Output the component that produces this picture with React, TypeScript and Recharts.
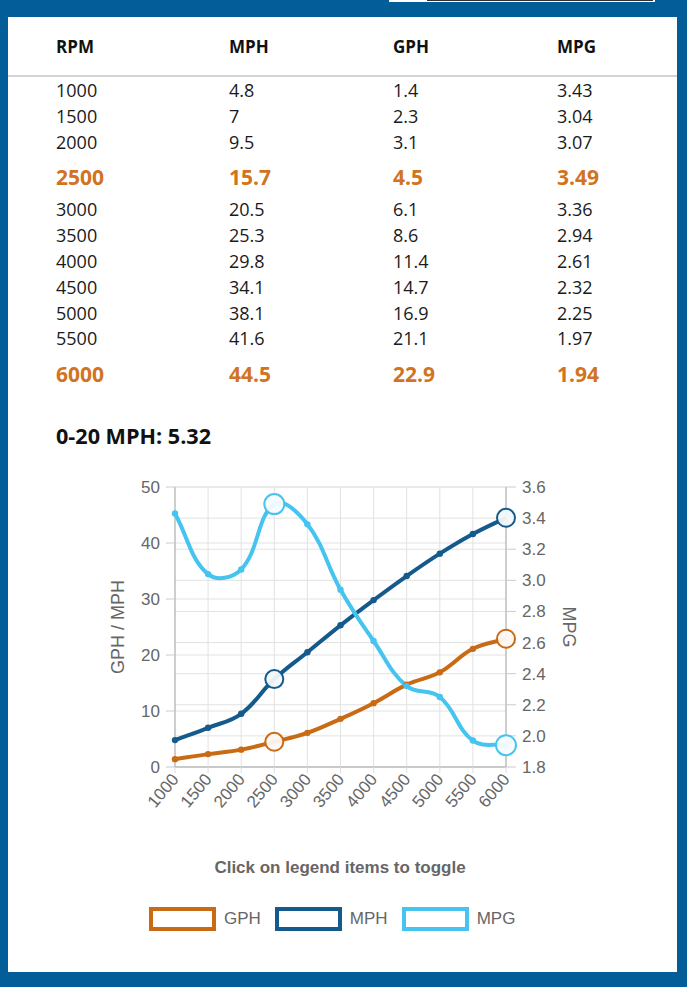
import React from 'react';
import { LineChart, Line, XAxis, YAxis, CartesianGrid } from 'recharts';

const rpm = ['1000', '1500', '2000', '2500', '3000', '3500', '4000', '4500', '5000', '5500', '6000'];
const mph = [4.8, 7, 9.5, 15.7, 20.5, 25.3, 29.8, 34.1, 38.1, 41.6, 44.5];
const gph = [1.4, 2.3, 3.1, 4.5, 6.1, 8.6, 11.4, 14.7, 16.9, 21.1, 22.9];
const mpg = [3.43, 3.04, 3.07, 3.49, 3.36, 2.94, 2.61, 2.32, 2.25, 1.97, 1.94];
const highlighted = ['2500', '6000'];
const leftTicks = [0, 10, 20, 30, 40, 50];
const rightTicks = [1.8, 2.0, 2.2, 2.4, 2.6, 2.8, 3.0, 3.2, 3.4, 3.6];
const headers = ['RPM', 'MPH', 'GPH', 'MPG'];
const summaryLabel = '0-20 MPH: 5.32';

const series = [
  { key: 'gph', name: 'GPH', color: '#c96a14', axis: 'left', fill: '#fdf8f2' },
  { key: 'mph', name: 'MPH', color: '#145a8c', axis: 'left', fill: '#f2f7fa' },
  { key: 'mpg', name: 'MPG', color: '#45c4ef', axis: 'right', fill: '#f4fbfe' },
];

const data = rpm.map((r, i) => ({ rpm: r, mph: mph[i], gph: gph[i], mpg: mpg[i] }));

const BLUE = '#035d98';
const ORANGE = '#d27321';
const CHART_FONT = '"Liberation Sans", Arial, sans-serif';
const TABLE_FONT = '"Open Sans", sans-serif';

function chartJsCurve(tension: number) {
  return (context: any) => {
    let pts: number[][] = [];
    return {
      areaStart() {},
      areaEnd() {},
      lineStart() {
        pts = [];
      },
      point(x: number, y: number) {
        pts.push([+x, +y]);
      },
      lineEnd() {
        const n = pts.length;
        if (!n) return;
        const cps = pts.map((p, i) => {
          const prev = pts[i > 0 ? i - 1 : 0];
          const next = pts[i < n - 1 ? i + 1 : n - 1];
          const d01 = Math.hypot(p[0] - prev[0], p[1] - prev[1]);
          const d12 = Math.hypot(next[0] - p[0], next[1] - p[1]);
          const s = d01 + d12 || 1;
          const fa = (tension * d01) / s;
          const fb = (tension * d12) / s;
          return {
            inner: [p[0] - fa * (next[0] - prev[0]), p[1] - fa * (next[1] - prev[1])],
            outer: [p[0] + fb * (next[0] - prev[0]), p[1] + fb * (next[1] - prev[1])],
          };
        });
        context.moveTo(pts[0][0], pts[0][1]);
        for (let i = 1; i < n; i++) {
          context.bezierCurveTo(
            cps[i - 1].outer[0], cps[i - 1].outer[1],
            cps[i].inner[0], cps[i].inner[1],
            pts[i][0], pts[i][1]
          );
        }
      },
    };
  };
}

const curve = chartJsCurve(0.4);

const makeDot = (color: string, fill: string, bigR: number) => (props: any) => {
  const { cx, cy, payload, index } = props;
  if (cx == null || cy == null) return <g key={index} />;
  if (highlighted.includes(payload.rpm)) {
    return (
      <circle key={index} cx={cx} cy={cy} r={bigR} fill={fill} fillOpacity={0.95} stroke={color} strokeWidth={2} />
    );
  }
  return <circle key={index} cx={cx} cy={cy} r={3.2} fill={color} stroke="none" />;
};

const XTick = (props: any) => {
  const { x, y, payload } = props;
  return (
    <g transform={`translate(${x},${y})`}>
      <text x={0} y={0} dy="0.35em" textAnchor="end" transform="rotate(-50)" fill="#666" fontSize={17} fontFamily={CHART_FONT}>
        {payload.value}
      </text>
    </g>
  );
};

function TableCell({ text, x, bold, color, size }: any) {
  return (
    <span style={{ position: 'absolute', left: x, top: 0, fontWeight: bold ? 700 : 400, color, fontSize: size, whiteSpace: 'nowrap' }}>
      {text}
    </span>
  );
}

const colX = [48, 221, 385, 549];

export default function App() {
  const rows = rpm.map((r, i) => [r, String(mph[i]), String(gph[i]), String(mpg[i])]);
  let top = 78;
  const rowEls = rows.map((row, i) => {
    const hl = highlighted.includes(row[0]);
    const h = hl ? 44 : 25.8;
    const el = (
      <div key={i} style={{ position: 'absolute', left: 0, top, height: h, width: 669, lineHeight: `${h}px` }}>
        {row.map((t, j) => (
          <TableCell key={j} text={t} x={colX[j]} bold={hl} color={hl ? ORANGE : '#1a1a1a'} size={hl ? 21 : 18} />
        ))}
      </div>
    );
    top += hl ? 42 : 25.8;
    return el;
  });

  return (
    <div style={{ position: 'absolute', left: 0, top: 0, width: 687, height: 987, background: BLUE, overflow: 'hidden', fontFamily: TABLE_FONT }}>
      <div style={{ position: 'absolute', left: 389, top: 0, width: 266, height: 2, background: '#ffffff' }} />
      <div style={{ position: 'absolute', left: 427, top: 0, width: 226, height: 1, background: '#333' }} />
      <div style={{ position: 'absolute', left: 8, top: 17, width: 669, height: 955, background: '#fff' }}>
        <div style={{ position: 'absolute', left: 0, top: 0, width: 669, height: 60, lineHeight: '60px' }}>
          {headers.map((h, j) => (
            <TableCell key={j} text={h} x={colX[j]} bold color="#111" size={17} />
          ))}
        </div>
        <div style={{ position: 'absolute', left: 0, top: 58, width: 669, height: 2, background: '#d4d4d4' }} />
        <div style={{ position: 'absolute', left: 0, top: -17, width: 669 }}>{rowEls}</div>
        <div style={{ position: 'absolute', left: 48, top: 404, fontWeight: 700, fontSize: 21.6, color: '#111', lineHeight: '30px' }}>
          {summaryLabel}
        </div>
      </div>

      <div style={{ position: 'absolute', left: 0, top: 460, width: 687, height: 367 }}>
        <LineChart width={687} height={367} data={data} margin={{ top: 27, right: 121, bottom: 0, left: 115 }}>
          <CartesianGrid yAxisId="left" stroke="#e2e2e2" />
          <CartesianGrid yAxisId="right" vertical={false} stroke="#e2e2e2" />
          <XAxis
            dataKey="rpm"
            height={60}
            interval={0}
            tick={<XTick />}
            tickSize={6}
            tickMargin={3}
            stroke="#aaa"
            tickLine={{ stroke: '#ddd' }}
          />
          <YAxis
            yAxisId="left"
            orientation="left"
            width={60}
            domain={[0, 50]}
            ticks={leftTicks}
            interval={0}
            tickSize={9}
            tickMargin={6}
            stroke="#aaa"
            tickLine={{ stroke: '#ccc' }}
            tick={{ fill: '#666', fontSize: 17, fontFamily: CHART_FONT }}
          />
          <YAxis
            yAxisId="right"
            orientation="right"
            width={60}
            domain={[1.8, 3.6]}
            ticks={rightTicks}
            interval={0}
            tickSize={10}
            tickMargin={6}
            stroke="#aaa"
            tickLine={{ stroke: '#ccc' }}
            tickFormatter={(v: number) => v.toFixed(1)}
            tick={{ fill: '#666', fontSize: 17, fontFamily: CHART_FONT }}
          />
          {series.map((s) => (
            <Line
              key={s.key}
              yAxisId={s.axis}
              dataKey={s.key}
              name={s.name}
              type={curve as any}
              stroke={s.color}
              strokeWidth={4}
              dot={makeDot(s.color, s.fill, s.key === 'mpg' ? 10 : 9)}
              activeDot={false}
              isAnimationActive={false}
            />
          ))}
        </LineChart>
      </div>

      <div style={{ position: 'absolute', left: 118, top: 627, transform: 'translate(-50%, -50%) rotate(-90deg)', fontFamily: CHART_FONT, fontSize: 18, color: '#666', whiteSpace: 'nowrap' }}>
        GPH / MPH
      </div>
      <div style={{ position: 'absolute', left: 568, top: 627, transform: 'translate(-50%, -50%) rotate(90deg)', fontFamily: CHART_FONT, fontSize: 18, color: '#666', whiteSpace: 'nowrap' }}>
        MPG
      </div>

      <div style={{ position: 'absolute', left: 340, top: 868, transform: 'translate(-50%, -50%)', fontFamily: CHART_FONT, fontSize: 17, fontWeight: 700, color: '#666', whiteSpace: 'nowrap' }}>
        Click on legend items to toggle
      </div>

      <div style={{ position: 'absolute', left: 149, top: 907, height: 24, display: 'flex', alignItems: 'center', fontFamily: CHART_FONT, fontSize: 17, color: '#666' }}>
        {series.map((s, i) => (
          <div key={s.key} style={{ display: 'flex', alignItems: 'center', marginLeft: i === 0 ? 0 : 14 }}>
            <div style={{ width: 67, height: 24, boxSizing: 'border-box', border: `4px solid ${s.color}`, background: '#fff' }} />
            <span style={{ marginLeft: 8 }}>{s.name}</span>
          </div>
        ))}
      </div>
    </div>
  );
}
